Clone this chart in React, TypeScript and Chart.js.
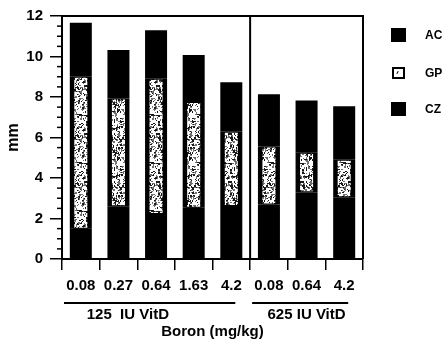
import React, { useEffect, useRef } from "react";
import { Chart, registerables } from "chart.js";

Chart.register(...registerables);

// ---- data ----
const categories = ["0.08", "0.27", "0.64", "1.63", "4.2", "0.08", "0.64", "4.2"];
const acTop = [11.67, 10.32, 11.3, 10.07, 8.73, 8.14, 7.83, 7.54];
const gpTop = [9.0, 7.92, 8.9, 7.75, 6.28, 5.55, 5.25, 4.9];
const czTop = [1.5, 2.61, 2.22, 2.53, 2.62, 2.69, 3.3, 3.05];
const groupLabels = ["125  IU VitD", "625 IU VitD"];
const groupFrom = [0, 5];
const groupTo = [4, 7];
const groupTextAt = [1.25, 6];
const yTicks = [0, 2, 4, 6, 8, 10, 12];
const legendLabels = ["AC", "GP", "CZ"];

const FONT = "'Liberation Sans', Arial, sans-serif";

function makeStipple(): CanvasPattern | string {
  const c = document.createElement("canvas");
  c.width = 24;
  c.height = 48;
  const g = c.getContext("2d");
  if (!g) return "#fff";
  g.fillStyle = "#fff";
  g.fillRect(0, 0, 24, 48);
  let s = 12345;
  const rnd = () => {
    s = (s * 1103515245 + 12345) & 0x7fffffff;
    return s / 0x7fffffff;
  };
  for (let i = 0; i < 320; i++) {
    const x = Math.floor(rnd() * 24);
    const y = Math.floor(rnd() * 48);
    g.fillStyle = rnd() < 0.5 ? "#1a1a1a" : "#707070";
    g.fillRect(x, y, rnd() < 0.35 ? 2 : 1, rnd() < 0.3 ? 2 : 1);
  }
  return g.createPattern(c, "repeat") || "#fff";
}

const decor = {
  id: "decor",
  afterDraw(chart: any) {
    const { ctx, chartArea: a, scales } = chart;
    const x = scales.x;
    const y = scales.y;
    const half = (x.getPixelForValue(1) - x.getPixelForValue(0)) / 2;
    ctx.save();
    ctx.strokeStyle = "#000";
    ctx.lineWidth = 2;
    ctx.beginPath();
    ctx.moveTo(a.left, a.top);
    ctx.lineTo(a.right, a.top);
    ctx.lineTo(a.right, a.bottom);
    ctx.stroke();
    // divider between groups
    const dx = x.getPixelForValue(groupTo[0]) + half;
    ctx.beginPath();
    ctx.moveTo(dx, a.top);
    ctx.lineTo(dx, a.bottom);
    ctx.stroke();
    // minor y ticks
    ctx.lineWidth = 1.5;
    for (let i = 0; i < yTicks.length - 1; i++) {
      const step = (yTicks[i + 1] - yTicks[i]) / 4;
      for (let k = 1; k < 4; k++) {
        const py = y.getPixelForValue(yTicks[i] + step * k);
        ctx.beginPath();
        ctx.moveTo(a.left - 5, py);
        ctx.lineTo(a.left, py);
        ctx.stroke();
      }
    }
    // group labels
    ctx.fillStyle = "#000";
    ctx.font = `bold 15px ${FONT}`;
    ctx.textAlign = "center";
    ctx.textBaseline = "middle";
    for (let gI = 0; gI < groupLabels.length; gI++) {
      const x0 = x.getPixelForValue(groupFrom[gI]) - half + 2;
      const x1 = x.getPixelForValue(groupTo[gI]) + 4;
      ctx.lineWidth = 2;
      ctx.beginPath();
      ctx.moveTo(x0, 303);
      ctx.lineTo(x1, 303);
      ctx.stroke();
      ctx.fillText(groupLabels[gI], x.getPixelForValue(groupTextAt[gI]), 315);
    }
    ctx.restore();
  },
};

export default function App() {
  const ref = useRef<HTMLCanvasElement>(null);
  useEffect(() => {
    if (!ref.current) return;
    const stipple = makeStipple();
    const chart = new Chart(ref.current, {
      type: "bar",
      data: {
        labels: categories,
        datasets: [
          {
            label: "GP",
            data: czTop.map((b, i) => [b, gpTop[i]]) as any,
            backgroundColor: stipple as any,
            borderColor: "#000",
            borderWidth: 1,
            borderSkipped: false,
            barPercentage: 0.4,
            categoryPercentage: 1,
            grouped: false,
            order: 0,
          },
          {
            label: "AC",
            data: gpTop.map((b, i) => [b, acTop[i]]) as any,
            backgroundColor: "#000",
            barPercentage: 0.585,
            categoryPercentage: 1,
            grouped: false,
            order: 1,
          },
          {
            label: "CZ",
            data: czTop.map((t) => [0, t]) as any,
            backgroundColor: "#000",
            barPercentage: 0.585,
            categoryPercentage: 1,
            grouped: false,
            order: 2,
          },
          {
            label: "",
            data: czTop.map((b, i) => [b, gpTop[i]]) as any,
            backgroundColor: "#000",
            barPercentage: 0.585,
            categoryPercentage: 1,
            grouped: false,
            order: 3,
          },
        ],
      },
      options: {
        responsive: false,
        animation: false,
        layout: { padding: { left: 0, top: 14, right: 84, bottom: 0 } },
        plugins: { legend: { display: false }, tooltip: { enabled: false } },
        scales: {
          x: {
            type: "category",
            afterFit: (s: any) => {
              s.height = 82;
            },
            grid: {
              offset: true,
              drawOnChartArea: false,
              tickLength: 11,
              color: "#000",
              lineWidth: 1.5,
            },
            border: { display: true, color: "#000", width: 2 },
            ticks: {
              color: "#000",
              font: { family: FONT, size: 15, weight: "bold" },
              padding: 7,
              maxRotation: 0,
              autoSkip: false,
            },
            title: {
              display: true,
              text: "Boron (mg/kg)",
              color: "#000",
              font: { family: FONT, size: 15, weight: "bold" },
              padding: { top: 0, bottom: 0 },
            },
          },
          y: {
            min: 0,
            max: 12,
            afterFit: (s: any) => {
              s.width = 62;
            },
            afterBuildTicks: (s: any) => {
              s.ticks = yTicks.map((v) => ({ value: v }));
            },
            grid: {
              drawOnChartArea: false,
              tickLength: 12,
              color: "#000",
              lineWidth: 1.5,
            },
            border: { display: true, color: "#000", width: 2 },
            ticks: {
              color: "#000",
              font: { family: FONT, size: 15, weight: "bold" },
              padding: 7,
            },
            title: {
              display: true,
              text: "mm",
              color: "#000",
              font: { family: FONT, size: 16, weight: "bold" },
            },
          },
        },
      },
      plugins: [decor],
    });
    return () => chart.destroy();
  }, []);

  const boxStyle = (i: number): React.CSSProperties =>
    i === 1
      ? {
          position: "absolute",
          left: 392,
          top: 67,
          width: 9,
          height: 8,
          border: "2px solid #000",
          background: "#fff",
        }
      : {
          position: "absolute",
          left: 391,
          top: i === 0 ? 28 : 102,
          width: 15,
          height: 14,
          background: "#000",
        };
  const textTop = [35, 73, 109];

  return (
    <div style={{ position: "fixed", left: 0, top: 0, width: 447, height: 341, background: "#fff" }}>
      <canvas ref={ref} width={447} height={341} style={{ position: "absolute", left: 0, top: 0 }} />
      {legendLabels.map((l, i) => (
        <React.Fragment key={l}>
          <div style={boxStyle(i)} />
          {i === 1 && (
            <div
              style={{
                position: "absolute",
                left: 397,
                top: 71,
                width: 1,
                height: 3,
                background: "#000",
                transform: "rotate(30deg)",
              }}
            />
          )}
          <div
            style={{
              position: "absolute",
              left: 425,
              top: textTop[i] - 7,
              height: 14,
              lineHeight: "14px",
              fontFamily: FONT,
              fontWeight: "bold",
              fontSize: 12,
              color: "#000",
            }}
          >
            {l}
          </div>
        </React.Fragment>
      ))}
    </div>
  );
}
